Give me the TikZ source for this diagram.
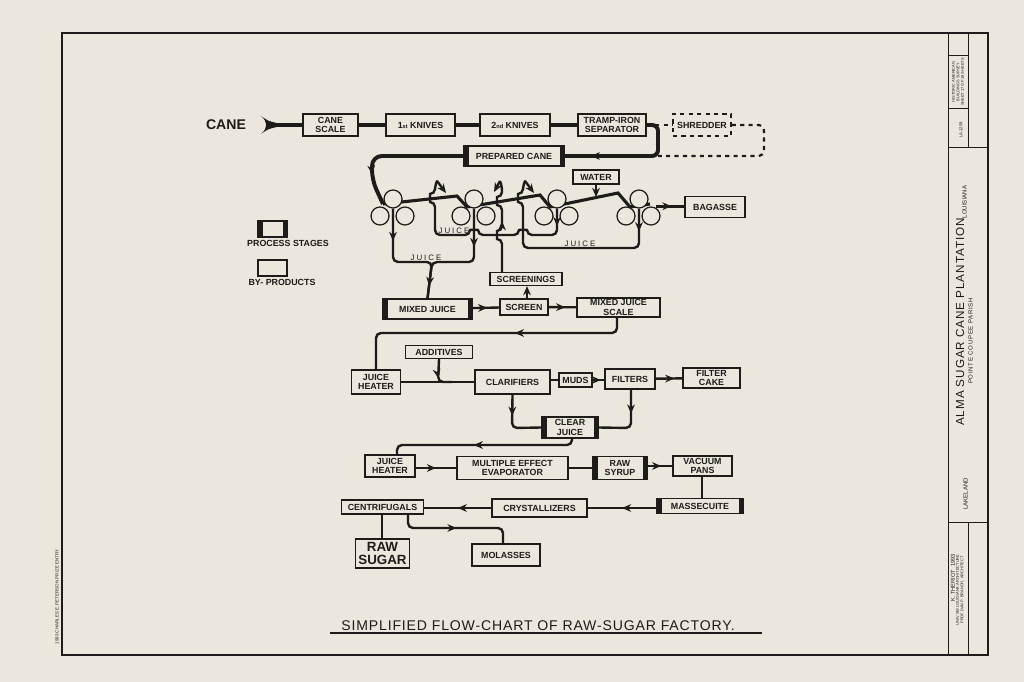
\documentclass[tikz,border=0pt]{standalone}
\usepackage{fontspec}
\setmainfont{Liberation Sans}
\usepackage{tikz}
\usetikzlibrary{arrows.meta, positioning}
\usetikzlibrary{decorations.markings}
\usetikzlibrary{calc}

\definecolor{paper}{RGB}{235,231,221}
\definecolor{ink}{RGB}{30,28,26}

\tikzset{
  lbl/.style={font=\fontsize{6.3}{6.6}\selectfont\bfseries, text=ink, align=center, inner sep=0pt},
  wh/.style 2 args={minimum width=#1*0.025cm, minimum height=#2*0.025cm},
  byprod/.style={lbl, draw=ink, line width=0.9pt, fill=paper},
  process/.style={byprod, path picture={
      \fill[ink] (path picture bounding box.south west) rectangle ([xshift=3.2pt]path picture bounding box.north west);
      \fill[ink] (path picture bounding box.south east) rectangle ([xshift=-3.2pt]path picture bounding box.north east);}},
  roll/.style={circle, draw=ink, line width=0.9pt, fill=paper, minimum size=18*0.025cm, inner sep=0pt},
  caneline/.style={draw=ink, line width=2.8pt},
  blanket/.style={draw=ink, line width=2.2pt},
  juice/.style={draw=ink, line width=1.7pt, rounded corners=5*0.025cm},
  amark/.style={postaction={decorate, decoration={markings,
      mark=at position #1 with {\arrow{Stealth[length=6.5pt, width=5.5pt]}}}}},
  juicelbl/.style={font=\fontsize{5.6}{6}\selectfont\addfontfeatures{LetterSpace=25}, text=ink, inner sep=0pt},
  tiny/.style={rotate=90, text=ink, inner sep=0pt, align=center},
}

\begin{document}
\begin{tikzpicture}[x=0.025cm, y=-0.025cm]
  % sheet and frame
  \fill[paper] (0,0) rectangle (1024,682);
  \draw[ink, line width=1.2pt] (62,33) rectangle (988,655);
  \draw[ink, line width=0.6pt] (948,33) -- (948,655);
  \draw[ink, line width=0.5pt] (968,33) -- (968,147) (948,55) -- (968,55) (948,108) -- (968,108) (948,147) -- (988,147)
    (948,522) -- (988,522) (968,522) -- (968,655);
  \node[tiny, font=\fontsize{8.3}{9}\selectfont\addfontfeatures{LetterSpace=8}] (title) at (960,322) {ALMA SUGAR CANE PLANTATION};
  \node[tiny, font=\fontsize{4.3}{5}\selectfont\addfontfeatures{LetterSpace=12}] (parish) at (970.5,341) {POINTE COUPEE PARISH};
  \node[tiny, font=\fontsize{4.3}{5}\selectfont] (state) at (964.5,202) {LOUISIANA};
  \node[tiny, font=\fontsize{4.3}{5}\selectfont] (town) at (965.5,494) {LAKELAND};
  \node[tiny, font=\fontsize{2.8}{3.2}\selectfont] (habs) at (958,82) {HISTORIC AMERICAN\\BUILDINGS SURVEY\\SHEET 17 OF 18 SHEETS};
  \node[tiny, font=\fontsize{3}{3.4}\selectfont] (survey) at (961,130) {LA-1209};
  \node[tiny, font=\fontsize{4}{4.5}\selectfont] (drawn) at (953,578) {K. THERIOT \ 1993};
  \node[tiny, font=\fontsize{2.8}{3.2}\selectfont] (school) at (960,590) {UNIV SW LOUISIANA ARCHITECTURE\\PROF DAN P. BRANCH, ARCHITECT};
  \node[tiny, font=\fontsize{3.2}{3.5}\selectfont] (prize) at (57,597) {1993 CHARLES E. PETERSON PRIZE ENTRY};

  % cane preparation
  \node[font=\fontsize{10}{10}\selectfont\bfseries, text=ink] (cane) at (226,125) {CANE};
  \coordinate (tail) at (270,125);
  \fill[ink] (261,116) .. controls (268,121) .. (278,123.3) -- (278,126.7) .. controls (268,129) .. (261,134)
    .. controls (268,128) and (268,122) .. (261,116) -- cycle;
  \node[byprod, wh={55}{22}] (scale) at (330.5,125) {CANE\\SCALE};
  \node[byprod, wh={69}{22}] (knives1) at (420.5,125) {1{\fontsize{4}{4}\selectfont st} KNIVES};
  \node[byprod, wh={70}{22}] (knives2) at (515,125) {2{\fontsize{4}{4}\selectfont nd} KNIVES};
  \node[byprod, wh={68}{22}] (tramp) at (612,125) {TRAMP-IRON\\SEPARATOR};
  \node[byprod, dashed, wh={58}{22}] (shredder) at (702,125) {SHREDDER};
  \node[process, wh={100}{20}] (prepared) at (514,156) {PREPARED CANE};
  \draw[caneline] (tail) -- (scale) (scale) -- (knives1) (knives1) -- (knives2) (knives2) -- (tramp);
  \draw[ink, line width=1.6pt, dashed] (tramp.east) -- (shredder.west);
  \draw[ink, line width=1.6pt, dashed, rounded corners=6*0.025cm] (shredder.east) -- (764,125) -- (764,156) -- (658,156);
  \draw[caneline, rounded corners=6*0.025cm, amark=0.8] (tramp.east) -- (658,125) -- (658,156) -- (prepared.east);

  % mills
  \draw[caneline, rounded corners=10*0.025cm, amark=0.77] (prepared.west) -- (372,156) -- (372,180) -- (383,204);
  \draw[blanket] (383,204) -- (457,196) -- (467,207) -- (540,195) -- (550,207) -- (618,193) -- (630,207) -- (650,204);
  \foreach \i/\mx in {1/393, 2/474, 3/557, 4/639} {
    \node[roll] (m\i t) at (\mx,199) {};
    \node[roll] (m\i l) at (\mx-13,216) {};
    \node[roll] (m\i r) at (\mx+12,216) {};
  }
  \node[byprod, wh={60}{21}] (bagasse) at (715,207) {BAGASSE};
  \draw[blanket, amark=0.55] (m4r.north east) ++(-2,-3) coordinate (m4out) (m4out) -- (bagasse.west |- m4out);
  \node[byprod, wh={46}{14}] (water) at (596,177) {WATER};
  \draw[juice, -{Stealth[length=6.5pt, width=5.5pt]}] (water.south) -- (596,197);

  % juice from the mills
  \node[process, wh={89}{20}] (mjuice) at (427.5,309) {MIXED JUICE};
  \draw[juice, amark=0.26, amark=0.9] (m1t.south) -- (393,262) -- (432,262) -- (mjuice.north);
  \draw[juice, amark=0.3] (m2t.south) -- (474,262) -- (432,262) -- (mjuice.north);
  \draw[juice, amark=0.08] (m3t.south) -- (557,235) -- (527,235)
    .. controls (527,229.7) and (519,229.7) .. (519,235) -- (478,235)
    .. controls (478,229.7) and (470,229.7) .. (470,235) -- (435,235)
    -- (435,202) .. controls (430,202) and (430,194) .. (435,194) -- (435,185) -- (437,181);
  \draw[juice, -{Stealth[length=6.5pt, width=5.5pt]}, rounded corners=0pt] (437,181) -- (446,193);
  \draw[juice, amark=0.1] (m4t.south) -- (639,248) -- (523,248) -- (523,202)
    .. controls (518,202) and (518,194) .. (523,194) -- (523,185) -- (525,181);
  \draw[juice, -{Stealth[length=6.5pt, width=5.5pt]}, rounded corners=0pt] (525,181) -- (534,193);
  \node[juicelbl] (juiceA) at (454,230.5) {JUICE};
  \node[juicelbl] (juiceB) at (426,258) {JUICE};
  \node[juicelbl] (juiceC) at (580,244) {JUICE};

  % screening
  \node[byprod, wh={72}{13}] (screenings) at (526,279) {SCREENINGS};
  \node[byprod, wh={48}{16}] (screen) at (524,307) {SCREEN};
  \node[byprod, wh={83}{19}] (mjscale) at (618.5,307.5) {MIXED JUICE\\SCALE};
  \draw[juice, amark=0.55] (screenings.north -| 502,0) -- (502,239)
    .. controls (497,239) and (497,231) .. (502,231) -- (502,205)
    .. controls (497,205) and (497,197) .. (502,197) -- (502,186) -- (500,181);
  \draw[juice, -{Stealth[length=6.5pt, width=5.5pt]}, rounded corners=0pt] (500,181) -- (494,192);
  \draw[juice, amark=0.55] (mjuice) -- (screen);
  \draw[juice, amark=0.6] (screen) -- (mjscale);
  \draw[juice, -{Stealth[length=6.5pt, width=5.5pt]}] (screen.north -| 527,0) -- (screenings.south -| 527,0);

  % clarification
  \node[byprod, wh={67}{13}] (additives) at (439,352) {ADDITIVES};
  \node[byprod, wh={49}{24}] (heater1) at (376,382) {JUICE\\HEATER};
  \node[byprod, wh={75}{24}] (clarifiers) at (512.5,382) {CLARIFIERS};
  \node[byprod, wh={33}{14}] (muds) at (575.5,380) {MUDS};
  \node[byprod, wh={50}{20}] (filters) at (630,379) {FILTERS};
  \node[byprod, wh={57}{20}] (fcake) at (711.5,378) {FILTER\\CAKE};
  \node[process, wh={56}{21}] (cjuice) at (570,427.5) {CLEAR\\JUICE};
  \draw[juice, amark=0.4] (mjscale.south -| 617,0) -- (617,333) -- (376,333) -- (heater1.north);
  \draw[juice] (heater1) -- (clarifiers);
  \draw[juice, amark=0.55] (additives.south) -- (438,382) -- (452,382);
  \draw[juice] (clarifiers.east |- muds) -- (muds);
  \draw[juice, amark=0.7] (muds) -- (filters.west |- muds);
  \draw[juice, amark=0.7] (filters) -- (fcake);
  \draw[juice, amark=0.35] (clarifiers.south) -- (512,428) -- (cjuice.west);
  \draw[juice, amark=0.35] (filters.south -| 631,0) -- (631,428) -- (cjuice.east);

  % evaporation and boiling
  \node[byprod, wh={50}{22}] (heater2) at (390,466) {JUICE\\HEATER};
  \node[byprod, wh={111}{23}] (mee) at (512.5,468) {MULTIPLE EFFECT\\EVAPORATOR};
  \node[process, wh={54}{23}] (rsyrup) at (620,468) {RAW\\SYRUP};
  \node[byprod, wh={59}{20}] (vpans) at (702.5,466) {VACUUM\\PANS};
  \node[process, wh={86}{15}] (massecuite) at (700,506) {MASSECUITE};
  \node[byprod, wh={95}{18}] (crystallizers) at (539.5,508) {CRYSTALLIZERS};
  \node[byprod, wh={82}{14}] (centrifugals) at (382.5,507) {CENTRIFUGALS};
  \node[byprod, line width=1.1pt, wh={54}{29}, font=\fontsize{9.5}{9.5}\selectfont\bfseries] (rsugar) at (382.5,553.5) {RAW\\SUGAR};
  \node[byprod, wh={68}{22}] (molasses) at (506,555) {MOLASSES};
  \draw[juice, amark=0.55] (cjuice.south -| 572,0) -- (572,445) -- (397,445) -- (heater2.north -| 397,0);
  \draw[juice, amark=0.5] (heater2.east |- mee) -- (mee);
  \draw[juice] (mee) -- (rsyrup);
  \draw[juice, amark=0.55] (rsyrup.east |- vpans) -- (vpans);
  \draw[juice] (vpans.south -| 702,0) -- (massecuite.north -| 702,0);
  \draw[juice, amark=0.5] (massecuite.west |- crystallizers) -- (crystallizers);
  \draw[juice, amark=0.5] (crystallizers) -- (centrifugals.east |- crystallizers);
  \draw[juice] (centrifugals.south -| 382,0) -- (rsugar.north -| 382,0);
  \draw[juice, amark=0.5] (centrifugals.south -| 408,0) -- (408,528) -- (503,528) -- (molasses.north -| 503,0);

  % key
  \node[process, wh={29}{16}] (keyproc) at (272.5,229) {};
  \node[lbl] (keyproctxt) at (288,243) {PROCESS STAGES};
  \node[byprod, wh={29}{16}] (keyby) at (272.5,268) {};
  \node[lbl] (keybytxt) at (282,282) {BY- PRODUCTS};

  % drawing title
  \node[font=\fontsize{10}{10}\selectfont\addfontfeatures{LetterSpace=6}, text=ink, inner sep=0pt] (drawingtitle) at (538,626) {SIMPLIFIED FLOW-CHART OF RAW-SUGAR FACTORY.};
  \draw[ink, line width=0.8pt] (330,633) -- (762,633);
\end{tikzpicture}
\end{document}
